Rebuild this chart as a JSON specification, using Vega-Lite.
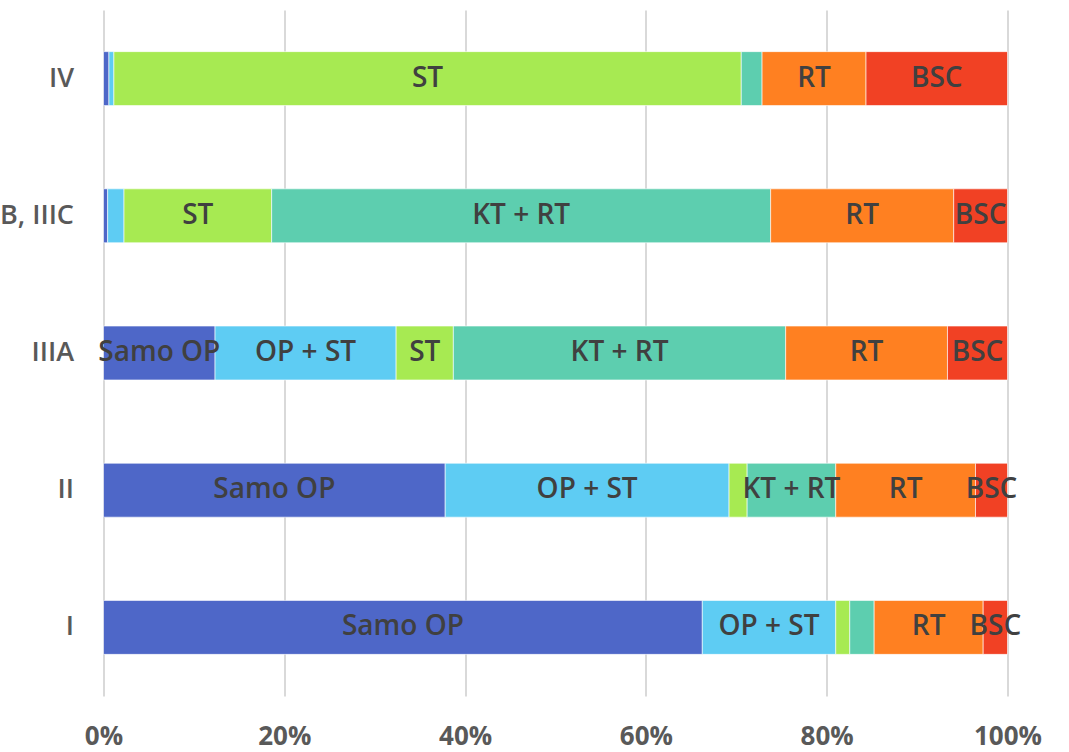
{
  "$schema": "https://vega.github.io/schema/vega-lite/v6.json",
  "width": 904,
  "height": 686,
  "autosize": {"type": "none"},
  "padding": {"left": 103.5, "top": 10, "right": 62, "bottom": 56},
  "config": {"view": {"stroke": null}, "font": "Open Sans"},
  "data": {
    "values": [
      {"stage": "IV", "treatment": "Samo OP", "order": 1, "pct": 0.6, "label": ""},
      {"stage": "IV", "treatment": "OP + ST", "order": 2, "pct": 0.55, "label": ""},
      {"stage": "IV", "treatment": "ST", "order": 3, "pct": 69.4, "label": "ST"},
      {"stage": "IV", "treatment": "KT + RT", "order": 4, "pct": 2.3, "label": ""},
      {"stage": "IV", "treatment": "RT", "order": 5, "pct": 11.5, "label": "RT"},
      {"stage": "IV", "treatment": "BSC", "order": 6, "pct": 15.65, "label": "BSC"},
      {"stage": "IIIB, IIIC", "treatment": "Samo OP", "order": 1, "pct": 0.46, "label": ""},
      {"stage": "IIIB, IIIC", "treatment": "OP + ST", "order": 2, "pct": 1.81, "label": ""},
      {"stage": "IIIB, IIIC", "treatment": "ST", "order": 3, "pct": 16.33, "label": "ST"},
      {"stage": "IIIB, IIIC", "treatment": "KT + RT", "order": 4, "pct": 55.2, "label": "KT + RT"},
      {"stage": "IIIB, IIIC", "treatment": "RT", "order": 5, "pct": 20.25, "label": "RT"},
      {"stage": "IIIB, IIIC", "treatment": "BSC", "order": 6, "pct": 5.95, "label": "BSC"},
      {"stage": "IIIA", "treatment": "Samo OP", "order": 1, "pct": 12.34, "label": "Samo OP"},
      {"stage": "IIIA", "treatment": "OP + ST", "order": 2, "pct": 20.03, "label": "OP + ST"},
      {"stage": "IIIA", "treatment": "ST", "order": 3, "pct": 6.33, "label": "ST"},
      {"stage": "IIIA", "treatment": "KT + RT", "order": 4, "pct": 36.76, "label": "KT + RT"},
      {"stage": "IIIA", "treatment": "RT", "order": 5, "pct": 17.9, "label": "RT"},
      {"stage": "IIIA", "treatment": "BSC", "order": 6, "pct": 6.64, "label": "BSC"},
      {"stage": "II", "treatment": "Samo OP", "order": 1, "pct": 37.8, "label": "Samo OP"},
      {"stage": "II", "treatment": "OP + ST", "order": 2, "pct": 31.4, "label": "OP + ST"},
      {"stage": "II", "treatment": "ST", "order": 3, "pct": 2.0, "label": ""},
      {"stage": "II", "treatment": "KT + RT", "order": 4, "pct": 9.8, "label": "KT + RT"},
      {"stage": "II", "treatment": "RT", "order": 5, "pct": 15.46, "label": "RT"},
      {"stage": "II", "treatment": "BSC", "order": 6, "pct": 3.54, "label": "BSC"},
      {"stage": "I", "treatment": "Samo OP", "order": 1, "pct": 66.24, "label": "Samo OP"},
      {"stage": "I", "treatment": "OP + ST", "order": 2, "pct": 14.76, "label": "OP + ST"},
      {"stage": "I", "treatment": "ST", "order": 3, "pct": 1.55, "label": ""},
      {"stage": "I", "treatment": "KT + RT", "order": 4, "pct": 2.7, "label": ""},
      {"stage": "I", "treatment": "RT", "order": 5, "pct": 12.06, "label": "RT"},
      {"stage": "I", "treatment": "BSC", "order": 6, "pct": 2.69, "label": "BSC"}
    ]
  },
  "transform": [
    {"stack": "pct", "groupby": ["stage"], "sort": [{"field": "order", "order": "ascending"}], "as": ["x0", "x1"], "offset": "normalize"},
    {"calculate": "(datum.x0 + datum.x1) / 2", "as": "xm"}
  ],
  "encoding": {
    "y": {
      "field": "stage",
      "type": "nominal",
      "sort": ["IV", "IIIB, IIIC", "IIIA", "II", "I"],
      "scale": {"paddingInner": 0.607, "paddingOuter": 0.3035},
      "axis": {
        "title": null,
        "domain": false,
        "ticks": false,
        "labelFontSize": 27,
        "labelFontWeight": 600,
        "labelColor": "#595959",
        "labelPadding": 30,
        "labelLimit": 400
      }
    }
  },
  "layer": [
    {
      "mark": {"type": "bar", "stroke": "#ffffff", "strokeWidth": 0.6},
      "encoding": {
        "x": {
          "field": "x0",
          "type": "quantitative",
          "scale": {"domain": [0, 1], "nice": false},
          "axis": {
            "title": null,
            "format": ".0%",
            "values": [0, 0.2, 0.4, 0.6, 0.8, 1],
            "grid": true,
            "gridColor": "#d9d9d9",
            "gridWidth": 2,
            "domain": false,
            "ticks": false,
            "labelFlush": false,
            "labelFontSize": 26,
            "labelFontWeight": "bold",
            "labelColor": "#595959",
            "labelPadding": 27
          }
        },
        "x2": {"field": "x1"},
        "color": {
          "field": "treatment",
          "type": "nominal",
          "scale": {
            "domain": ["Samo OP", "OP + ST", "ST", "KT + RT", "RT", "BSC"],
            "range": ["#4E67C8", "#5ECCF3", "#A7EA52", "#5DCEAF", "#FF8021", "#F14124"]
          },
          "legend": null
        }
      }
    },
    {
      "mark": {"type": "text", "fontSize": 28, "fontWeight": 600, "color": "#404040", "baseline": "middle", "align": "center"},
      "encoding": {
        "x": {"field": "xm", "type": "quantitative"},
        "text": {"field": "label"}
      }
    }
  ]
}
